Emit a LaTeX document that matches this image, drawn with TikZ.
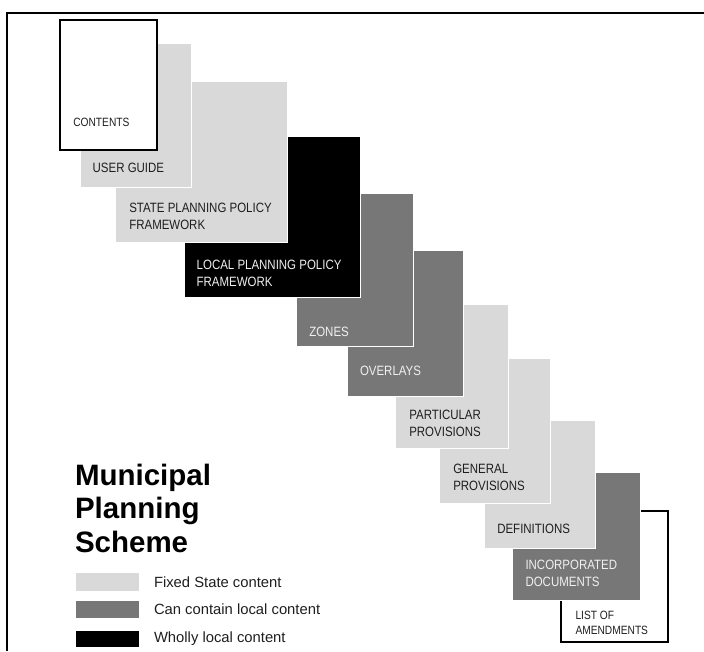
\documentclass[tikz,border=0pt]{standalone}
\usepackage{fontspec}
\setmainfont{Liberation Sans}
\newfontfamily\narrowfont[FakeStretch=0.85]{Liberation Sans}
\usepackage{xcolor}
\usepackage{tikz}
\usetikzlibrary{positioning,calc}
\definecolor{fixedgray}{HTML}{D9D9D9}
\definecolor{localgray}{HTML}{777777}
\definecolor{inkgray}{HTML}{1E1E1E}

\begin{document}
\begin{tikzpicture}[
  x=1pt, y=-1pt,
  every node/.style={inner sep=0pt, outer sep=0pt},
  sheet/.style={draw=white, line width=0.8pt, anchor=north west},
  fixed/.style={sheet, fill=fixedgray},
  canlocal/.style={sheet, fill=localgray},
  wholly/.style={sheet, fill=black},
  endsheet/.style={anchor=north west, draw=black, line width=1.8pt, fill=white},
  lbl/.style={anchor=base west, align=left, text=inkgray,
    font=\narrowfont\fontsize{13.5}{16.8}\selectfont},
  lbldark/.style={lbl, text=white!94!black},
  lblsmall/.style={lbl, font=\narrowfont\fontsize{12}{14.7}\selectfont},
  swatch/.style={minimum width=63pt, minimum height=17pt, anchor=north west},
  keytext/.style={right=15pt of #1, text=inkgray, font=\fontsize{14.8}{17}\selectfont}]
\useasboundingbox (0,0) rectangle (704,651);
% frame
\draw[line width=2pt] (7,651) -- (7,12.5) -- (704,12.5);
% the parts, last one first so each earlier sheet lies on top
% (labels sit on the baseline of their last line)
\node[endsheet, minimum width=107pt, minimum height=131pt] (amendments) at (561,511) {};
\node[lblsmall] (tamendments) at (575.5,634) {LIST OF\\AMENDMENTS};
\node[canlocal, minimum width=128pt, minimum height=128pt] (incorporated) at (512,472) {};
\node[lbldark] (tincorporated) at (525.5,586.7) {INCORPORATED\\DOCUMENTS};
\node[fixed, minimum width=111pt, minimum height=128pt] (definitions) at (484,420) {};
\node[lbl] (tdefinitions) at (497.3,533.3) {DEFINITIONS};
\node[fixed, minimum width=111pt, minimum height=145pt] (general) at (439,358) {};
\node[lbl] (tgeneral) at (453.3,490) {GENERAL\\PROVISIONS};
\node[fixed, minimum width=113pt, minimum height=144pt] (particular) at (395,304) {};
\node[lbl] (tparticular) at (409.3,436.7) {PARTICULAR\\PROVISIONS};
\node[canlocal, minimum width=116pt, minimum height=146pt] (overlays) at (347,250) {};
\node[lbldark] (toverlays) at (360,375.7) {OVERLAYS};
\node[canlocal, minimum width=117pt, minimum height=153pt] (zones) at (296,193) {};
\node[lbldark] (tzones) at (309.3,336) {ZONES};
\node[wholly, minimum width=176pt, minimum height=161pt] (localppf) at (184,136) {};
\node[lbldark] (tlocalppf) at (196.7,286) {LOCAL PLANNING POLICY\\FRAMEWORK};
\node[fixed, minimum width=172pt, minimum height=161pt] (stateppf) at (115,81) {};
\node[lbl] (tstateppf) at (129.3,229.3) {STATE PLANNING POLICY\\FRAMEWORK};
\node[fixed, minimum width=111pt, minimum height=144pt] (userguide) at (80,43) {};
\node[lbl] (tuserguide) at (92.7,172.3) {USER GUIDE};
\node[endsheet, minimum width=97pt, minimum height=130pt] (contents) at (60,20) {};
\node[lblsmall] (tcontents) at (73.3,126.7) {CONTENTS};
% title and key
\node[anchor=base west, align=left, text=black,
  font=\bfseries\fontsize{29.5}{33.5}\selectfont] (title) at (75,552)
  {Municipal\\Planning\\Scheme};
\node[swatch, fill=fixedgray, minimum height=18pt] (keyfixed) at (76,573) {};
\node[keytext=keyfixed] (tkeyfixed) {Fixed State content};
\node[swatch, fill=localgray] (keylocal) at (76,601) {};
\node[keytext=keylocal] (tkeylocal) {Can contain local content};
\node[swatch, fill=black, minimum height=16pt] (keywholly) at (76,631) {};
\node[keytext=keywholly] (tkeywholly) {Wholly local content};
\end{tikzpicture}
\end{document}
